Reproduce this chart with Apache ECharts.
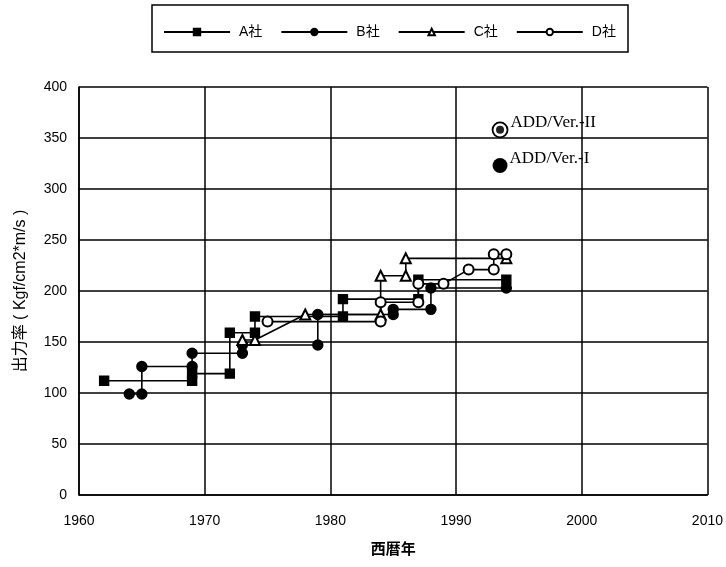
<!DOCTYPE html>
<html>
<head>
<meta charset="utf-8">
<script src="https://cdn.jsdelivr.net/npm/echarts@6/dist/echarts.min.js"></script>
<style>
  html, body { margin: 0; padding: 0; background: #fff; }
  #chart { width: 726px; height: 567px; }
</style>
</head>
<body>
<div id="chart"></div>
<script>
// Output-rate history per company (step lines: year, output)
const companyNames = ['A社', 'B社', 'C社', 'D社'];

const aYears  = [1962, 1969, 1969, 1972, 1972, 1974, 1974, 1981, 1981, 1987, 1987, 1994];
const aValues = [112, 112, 119, 119, 159, 159, 175, 175, 192, 192, 211, 211];

const bYears  = [1964, 1965, 1965, 1969, 1969, 1973, 1973, 1979, 1979, 1985, 1985, 1988, 1988, 1994];
const bValues = [99, 99, 126, 126, 139, 139, 147, 147, 177, 177, 182, 182, 203, 203];

const cYears  = [1973, 1974, 1978, 1984, 1984, 1986, 1986, 1994];
const cValues = [152, 152, 177, 177, 215, 215, 232, 232];

const dYears  = [1975, 1984, 1984, 1987, 1987, 1989, 1991, 1993, 1993, 1994];
const dValues = [170, 170, 189, 189, 207, 207, 221, 221, 236, 236];

// Highlighted products
const addNames  = ['ADD/Ver.-II', 'ADD/Ver.-I'];
const addYears  = [1993.5, 1993.5];
const addValues = [358, 323];

const xTicks = { min: 1960, max: 2010, step: 10 };
const yTicks = { min: 0, max: 400, step: 50 };

const pairs = (xs, ys) => xs.map((x, i) => [x, ys[i]]);

const lineBase = {
  type: 'line',
  color: '#000',
  lineStyle: { color: '#000', width: 1.6 },
  itemStyle: { color: '#000', borderColor: '#000', borderWidth: 1.4 },
  showAllSymbol: true,
  animation: false
};

const chart = echarts.init(document.getElementById('chart'), null, { renderer: 'canvas' });

chart.setOption({
  backgroundColor: '#fff',
  animation: false,
  textStyle: { fontFamily: 'Liberation Sans, Arial, sans-serif', color: '#000' },
  graphic: [{
    type: 'rect',
    shape: { x: 152, y: 5, width: 476, height: 47 },
    style: { fill: 'none', stroke: '#000', lineWidth: 1.5 }
  }],
  legend: {
    data: companyNames,
    left: 158,
    top: 20,
    itemWidth: 66,
    itemHeight: 8,
    itemGap: 18,
    textStyle: { fontSize: 14, color: '#000', fontFamily: 'Liberation Sans, Noto Sans CJK JP, sans-serif', padding: [0, 0, 0, 4] }
  },
  grid: { left: 79, right: 15, top: 87, bottom: 72, containLabel: false },
  xAxis: {
    type: 'value',
    min: xTicks.min, max: xTicks.max, interval: xTicks.step,
    name: '西暦年',
    nameLocation: 'middle',
    nameGap: 46,
    nameTextStyle: { fontSize: 15, color: '#000', fontWeight: 'bold', fontFamily: 'Noto Sans CJK JP, sans-serif' },
    axisLine: { lineStyle: { color: '#000', width: 1.5 } },
    axisTick: { show: false },
    axisLabel: { fontSize: 14, color: '#000', margin: 19, formatter: v => String(v) },
    splitLine: { show: true, lineStyle: { color: '#000', width: 1.5 } }
  },
  yAxis: {
    type: 'value',
    min: yTicks.min, max: yTicks.max, interval: yTicks.step,
    name: '出力率 ( Kgf/cm2*m/s )',
    nameLocation: 'middle',
    nameGap: 50,
    nameTextStyle: { fontSize: 16, color: '#000', fontFamily: 'Liberation Sans, Noto Sans CJK JP, sans-serif' },
    axisLine: { show: true, lineStyle: { color: '#000', width: 1.5 } },
    axisTick: { show: false },
    axisLabel: { fontSize: 14, color: '#000', margin: 12 },
    splitLine: { show: true, lineStyle: { color: '#000', width: 1.5 } }
  },
  series: [
    Object.assign({}, lineBase, { name: 'A社', data: pairs(aYears, aValues), symbol: 'rect', symbolSize: 9 }),
    Object.assign({}, lineBase, { name: 'B社', data: pairs(bYears, bValues), symbol: 'circle', symbolSize: 10 }),
    Object.assign({}, lineBase, { name: 'C社', data: pairs(cYears, cValues), symbol: 'emptyTriangle', symbolSize: 10 }),
    Object.assign({}, lineBase, { name: 'D社', data: pairs(dYears, dValues), symbol: 'emptyCircle', symbolSize: 10 }),
    {
      type: 'scatter',
      name: 'ADD',
      data: addNames.map((n, i) => ({
        name: n,
        value: [addYears[i], addValues[i]],
        symbol: 'circle',
        symbolSize: 15,
        itemStyle: i === 0
          ? { color: '#fff', borderColor: '#000', borderWidth: 1.8, opacity: 1 }
          : { color: '#000', opacity: 1 }
      })),
      label: {
        show: true,
        position: 'right',
        distance: 2,
        offset: [0, -7],
        formatter: p => p.name,
        fontFamily: 'Liberation Serif, Times New Roman, serif',
        fontSize: 17,
        color: '#000'
      },
      z: 5
    },
    {
      type: 'scatter',
      name: 'ADD-core',
      data: [[addYears[0], addValues[0]]],
      symbol: 'circle',
      symbolSize: 8,
      itemStyle: { color: '#222', opacity: 1 },
      z: 6,
      silent: true
    }
  ]
});
</script>
</body>
</html>
